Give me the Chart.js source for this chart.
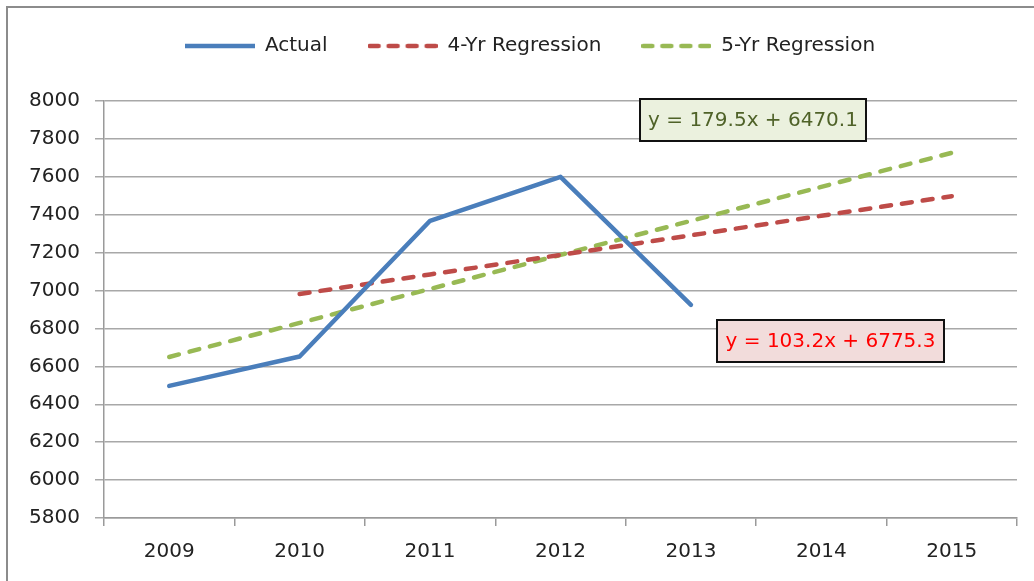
<!DOCTYPE html>
<html>
<head>
<meta charset="utf-8">
<script src="https://cdn.jsdelivr.net/npm/chart.js@4/dist/chart.umd.min.js"></script>
<style>
  html, body { margin: 0; padding: 0; background: #fff; }
  #wrap { width: 1034px; height: 581px; position: relative; }
</style>
</head>
<body>
<div id="wrap"><canvas id="c" width="1034" height="581"></canvas></div>
<script>
const years = ['2009', '2010', '2011', '2012', '2013', '2014', '2015'];
const actual = [6497, 6652, 7368, 7600, 6924, null, null];
const reg4 = [null, 6981.7, 7084.9, 7188.1, 7291.3, 7394.5, 7497.7];
const reg5 = [6649.6, 6829.1, 7008.6, 7188.1, 7367.6, 7547.1, 7726.6];
const seriesNames = ['Actual', '4-Yr Regression', '5-Yr Regression'];
const eq5Text = 'y = 179.5x + 6470.1';
const eq4Text = 'y = 103.2x + 6775.3';
const yMin = 5800, yMax = 8000, yStep = 200;

const FONT = 'DejaVu Sans';
const COLORS = ['#4a7ebb', '#be4b48', '#98b954'];
const DASH = [10, 11];

function legendSwatch(color, dashed) {
  const cv = document.createElement('canvas');
  cv.width = 70; cv.height = 8;
  const c = cv.getContext('2d');
  c.strokeStyle = color;
  c.lineWidth = 4.5;
  c.lineCap = dashed ? 'round' : 'butt';
  if (dashed) c.setLineDash([9, 10]);
  c.beginPath();
  c.moveTo(dashed ? 2 : 0, 4);
  c.lineTo(dashed ? 68 : 70, 4);
  c.stroke();
  return cv;
}
const swatches = [legendSwatch(COLORS[0], false), legendSwatch(COLORS[1], true), legendSwatch(COLORS[2], true)];

const framePlugin = {
  id: 'frame',
  beforeDraw(chart) {
    const ctx = chart.ctx;
    ctx.save();
    ctx.fillStyle = '#ffffff';
    ctx.fillRect(0, 0, chart.width, chart.height);
    ctx.strokeStyle = '#8c8c8c';
    ctx.lineWidth = 2;
    ctx.strokeRect(7, 7, 1200, 800);
    ctx.restore();
  },
  afterLayout(chart) {
    if (chart.legend) { chart.legend.left += 23; }
  }
};

function drawBox(ctx, x, y, w, h, fill, color, text) {
  ctx.save();
  ctx.fillStyle = fill;
  ctx.fillRect(x, y, w, h);
  ctx.strokeStyle = '#111';
  ctx.lineWidth = 2;
  ctx.strokeRect(x, y, w, h);
  ctx.fillStyle = color;
  ctx.font = '20px "' + FONT + '"';
  ctx.textBaseline = 'middle';
  ctx.textAlign = 'center';
  ctx.fillText(text, x + w / 2, y + h / 2 + 1);
  ctx.restore();
}

const labelPlugin = {
  id: 'eqLabels',
  afterDraw(chart) {
    const ctx = chart.ctx;
    drawBox(ctx, 640, 99, 226, 42, '#ebf1de', '#4f6228', eq5Text);
    drawBox(ctx, 717, 320, 227, 42, '#f2dcdb', '#ff0000', eq4Text);
  }
};

new Chart(document.getElementById('c'), {
  type: 'line',
  data: {
    labels: years,
    datasets: [
      { label: seriesNames[0], data: actual, borderColor: COLORS[0], backgroundColor: COLORS[0],
        borderWidth: 4.5, pointRadius: 0, tension: 0, fill: false, borderCapStyle: 'round', borderJoinStyle: 'round' },
      { label: seriesNames[1], data: reg4, borderColor: COLORS[1], backgroundColor: COLORS[1],
        borderWidth: 4.5, borderDash: DASH, borderCapStyle: 'round', pointRadius: 0, tension: 0, fill: false },
      { label: seriesNames[2], data: reg5, borderColor: COLORS[2], backgroundColor: COLORS[2],
        borderWidth: 4.5, borderDash: DASH, borderCapStyle: 'round', pointRadius: 0, tension: 0, fill: false }
    ]
  },
  options: {
    responsive: false,
    animation: false,
    devicePixelRatio: 1,
    layout: { padding: { top: -4, left: 20, right: 17, bottom: 0 } },
    plugins: {
      legend: {
        position: 'top',
        labels: {
          usePointStyle: true,
          pointStyleWidth: 70,
          boxHeight: 20,
          padding: 40,
          color: '#222',
          font: { family: FONT, size: 20 },
          generateLabels(chart) {
            const items = Chart.defaults.plugins.legend.labels.generateLabels(chart);
            items.forEach((it, i) => { it.pointStyle = swatches[i]; });
            return items;
          }
        }
      },
      subtitle: {
        display: true,
        text: '',
        weight: 500,
        font: { size: 1, lineHeight: 1 },
        padding: { top: 34, bottom: 0 }
      },
      title: { display: false },
      tooltip: { enabled: false }
    },
    scales: {
      x: {
        offset: true,
        grid: { display: true, drawOnChartArea: false, drawTicks: true, tickLength: 8, offset: true, color: '#9a9a9a', lineWidth: 1.5 },
        border: { display: true, color: '#9a9a9a', width: 1.5 },
        ticks: { color: '#222', font: { family: FONT, size: 20 }, padding: 14, maxRotation: 0, autoSkip: false },
        afterFit(scale) { scale.height = 63; }
      },
      y: {
        min: yMin, max: yMax,
        grid: { color: '#a8a8a8', lineWidth: 1.5, tickLength: 9, drawTicks: true },
        border: { display: true, color: '#9a9a9a', width: 1.5 },
        ticks: { stepSize: yStep, color: '#222', font: { family: FONT, size: 20 }, padding: 15,
                 callback: (v) => String(v) },
        afterFit(scale) { scale.width = 84; }
      }
    }
  },
  plugins: [framePlugin, labelPlugin]
});
</script>
</body>
</html>
